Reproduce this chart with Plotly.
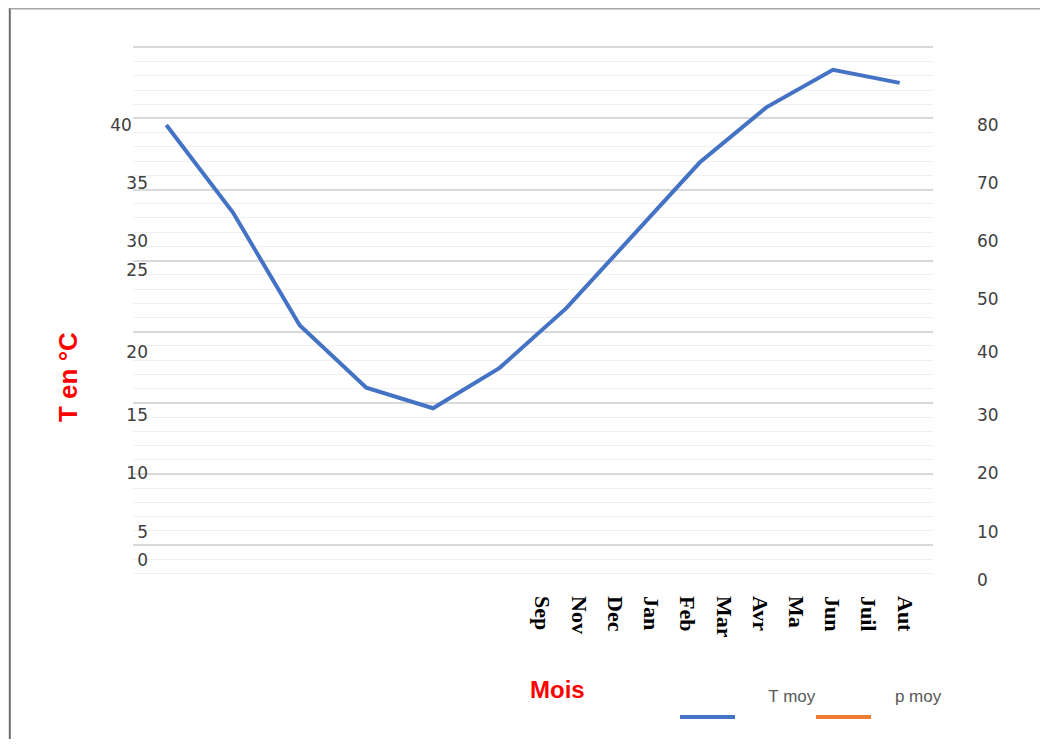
import plotly.graph_objects as go

# ---- data ----
line_months = ["Sep", "Oct", "Nov", "Dec", "Jan", "Feb", "Mar", "Avr", "Mai", "Jun", "Juil", "Aut"]
t_moy = [80.0, 64.6, 44.8, 33.8, 30.2, 37.3, 47.8, 60.6, 73.4, 83.1, 89.7, 87.4]
p_moy = [None] * 12
axis_months = ["Sep", "Nov", "Dec", "Jan", "Feb", "Mar", "Avr", "Ma", "Jun", "Juil", "Aut"]
axis_month_pos = [5.644 + 0.5434 * i for i in range(len(axis_months))]
left_tick_text = ["40\u00a0\u00a0\u00a0", "35", "30", "25", "20", "15", "10", "5", "0"]
left_tick_vals = [80.0, 69.8, 59.6, 54.5, 40.1, 29.0, 18.8, 8.44, 3.5]
right_tick_text = ["0", "10", "20", "30", "40", "50", "60", "70", "80"]
right_tick_vals = [0, 8.44, 18.8, 29.0, 40.1, 49.4, 59.6, 69.8, 80.0]

Y_RANGE = [-1.055, 94.945]
W, H = 1032, 731

fig = go.Figure()

# invisible traces so that the grid axis (y) and the left label axis (y3) are drawn
fig.add_trace(go.Scatter(x=line_months, y=[None] * 12, xaxis="x", yaxis="y",
                         showlegend=False, hoverinfo="skip"))
fig.add_trace(go.Scatter(x=line_months, y=[None] * 12, xaxis="x", yaxis="y3",
                         showlegend=False, hoverinfo="skip"))

fig.add_trace(go.Scatter(x=line_months, y=t_moy, xaxis="x", yaxis="y2", mode="lines",
                         name="\u00a0" * 6 + "T moy<br>\u00a0",
                         line=dict(color="#4472C4", width=4)))
fig.add_trace(go.Scatter(x=line_months, y=p_moy, xaxis="x", yaxis="y2", mode="lines",
                         name="\u00a0" * 4 + "p moy<br>\u00a0",
                         line=dict(color="#ED7D31", width=4)))

tickfont = dict(family="DejaVu Sans", size=17, color="#404040")

fig.update_layout(
    width=W, height=H,
    margin=dict(l=125, r=107, t=32, b=153, autoexpand=False),
    paper_bgcolor="white", plot_bgcolor="rgba(0,0,0,0)",
    showlegend=True,
    xaxis=dict(type="category", categoryarray=line_months, range=[-0.5, 11.5],
               domain=[0, 1], tickmode="array", tickvals=axis_month_pos, ticktext=axis_months,
               showgrid=False, zeroline=False, showline=False, ticks="", tickangle=90,
               ticklabelstandoff=9,
               tickfont=dict(family="Liberation Serif", size=22, color="black", weight="bold")),
    yaxis=dict(range=Y_RANGE, showticklabels=False, ticks="",
               tick0=6.154, dtick=12.5, showgrid=True, gridcolor="#d9d9d9", gridwidth=1.5,
               zeroline=False, showline=False,
               minor=dict(tick0=6.154, dtick=2.5, showgrid=True, gridcolor="#f0f0f0", gridwidth=1)),
    yaxis2=dict(range=Y_RANGE, overlaying="y", side="right", tickmode="array",
                tickvals=right_tick_vals, ticktext=right_tick_text,
                showgrid=False, zeroline=False, showline=False, ticks="",
                tickfont=tickfont, ticklabelstandoff=43),
    yaxis3=dict(range=Y_RANGE, overlaying="y", side="left", tickmode="array",
                tickvals=left_tick_vals, ticktext=left_tick_text,
                showgrid=False, zeroline=False, showline=False, ticks="",
                tickfont=tickfont, ticklabelstandoff=-16),
    legend=dict(orientation="h", x=0.6775, y=-0.1673, xanchor="left", yanchor="top",
                valign="bottom", font=dict(family="Liberation Sans", size=17, color="#595959"),
                bgcolor="rgba(0,0,0,0)", itemwidth=55, entrywidth=66, entrywidthmode="pixels",
                traceorder="normal"),
    annotations=[
        dict(text="Mois", xref="paper", yref="paper", x=0.531, y=-0.19, showarrow=False,
             xanchor="center", yanchor="middle",
             font=dict(family="Liberation Sans", size=24, color="#FF0000", weight="bold")),
        dict(text="T en °C", xref="paper", yref="paper", x=-0.1025, y=0.3828, showarrow=False,
             textangle=-90,
             font=dict(family="Liberation Sans", size=26, color="#FF0000", weight="bold")),
    ],
    shapes=[
        dict(type="line", xref="paper", yref="paper", x0=-0.154, x1=-0.154, y0=1.2, y1=-1,
             line=dict(color="#6d6d6d", width=2)),
        dict(type="line", xref="paper", yref="paper", x0=-0.154, x1=2, y0=1.0577, y1=1.0577,
             line=dict(color="#a6a6a6", width=2)),
    ],
)

fig.write_html("out.html")
